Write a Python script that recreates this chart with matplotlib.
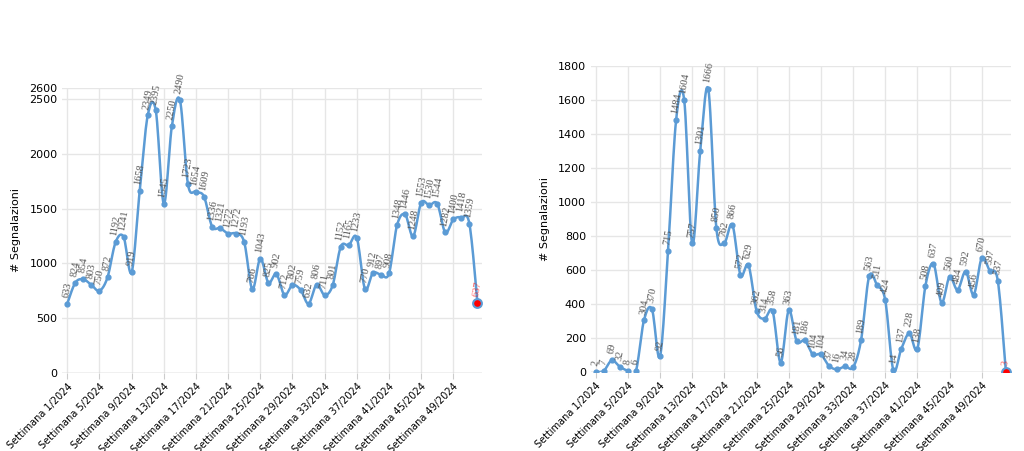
import numpy as np
import matplotlib.pyplot as plt

weeks = ["Settimana %d/2024" % i for i in range(1, 53)]
left_vals = [633, 824, 854, 803, 750, 872, 1192, 1241, 919, 1658, 2349, 2395, 1545, 2250, 2490,
             1723, 1654, 1609, 1336, 1321, 1272, 1272, 1193, 766, 1043, 825, 902, 712, 802, 759,
             632, 806, 711, 801, 1152, 1165, 1233, 770, 912, 897, 908, 1348, 1446, 1248, 1553,
             1530, 1544, 1282, 1400, 1418, 1359, 637]
right_vals = [2, 7, 69, 32, 8, 6, 304, 370, 92, 715, 1484, 1604, 757, 1301, 1666, 850, 762, 866,
              572, 629, 362, 314, 358, 56, 363, 181, 186, 104, 104, 37, 16, 34, 28, 189, 563, 511,
              424, 14, 137, 228, 138, 508, 637, 409, 560, 484, 592, 456, 670, 597, 537, 3]

line_col = '#5b9bd5'


def smooth(x, y, n=12):
    # catmull-rom curve through the points, for a rounded line like the original
    x = np.asarray(x, float); y = np.asarray(y, float)
    px = np.concatenate([[x[0]], x, [x[-1]]])
    py = np.concatenate([[y[0]], y, [y[-1]]])
    xs, ys = [], []
    t = np.linspace(0, 1, n, endpoint=False)
    for i in range(1, len(px) - 2):
        for p, out in ((px, xs), (py, ys)):
            p0, p1, p2, p3 = p[i-1], p[i], p[i+1], p[i+2]
            out.extend(0.5 * (2*p1 + (-p0 + p2)*t + (2*p0 - 5*p1 + 4*p2 - p3)*t**2
                              + (-p0 + 3*p1 - 3*p2 + p3)*t**3))
    xs.append(x[-1]); ys.append(y[-1])
    return xs, ys


def draw(ax, vals, ymax, yticks):
    x = np.arange(len(vals))
    sx, sy = smooth(x, vals)
    ax.plot(sx, sy, color=line_col, lw=1.8, zorder=2)
    ax.scatter(x[:-1], vals[:-1], color=line_col, s=12, zorder=3)
    ax.scatter(x[-1], vals[-1], color='red', s=40, edgecolors=line_col, linewidths=1.5, zorder=4)
    for i, v in enumerate(vals):
        last = i == len(vals) - 1
        ax.annotate(str(v), (i, v), xytext=(0, 4), textcoords='offset points', rotation=80,
                    ha='center', va='bottom', fontsize=7.5, family='Liberation Serif',
                    color='red' if last else '#555555', alpha=0.6 if last else 1)
    ax.set_ylim(0, ymax)
    ax.set_xlim(-0.6, len(vals) - 0.4)
    ax.set_yticks(yticks)
    ax.set_xticks(x[::4])
    ax.set_xticklabels(weeks[::4], rotation=45, ha='right', rotation_mode='anchor', fontsize=7)
    ax.tick_params(axis='y', labelsize=8, length=0)
    ax.tick_params(axis='x', length=4, color='#cccccc', pad=2)
    ax.grid(True, color='#e6e6e6', lw=1)
    ax.set_axisbelow(True)
    for s in ax.spines.values():
        s.set_visible(False)
    ax.axhline(0, color='#cccccc', lw=1)
    ax.set_ylabel('# Segnalazioni', fontsize=8, labelpad=6)


fig = plt.figure(figsize=(10.24, 4.51), dpi=100)
ax1 = fig.add_axes([0.061, 0.173, 0.41, 0.632])
ax2 = fig.add_axes([0.577, 0.175, 0.41, 0.678])

draw(ax1, left_vals, 2600, [0, 500, 1000, 1500, 2000, 2500, 2600])
draw(ax2, right_vals, 1800, list(range(0, 1801, 200)))

plt.savefig('out.png', dpi=100)
